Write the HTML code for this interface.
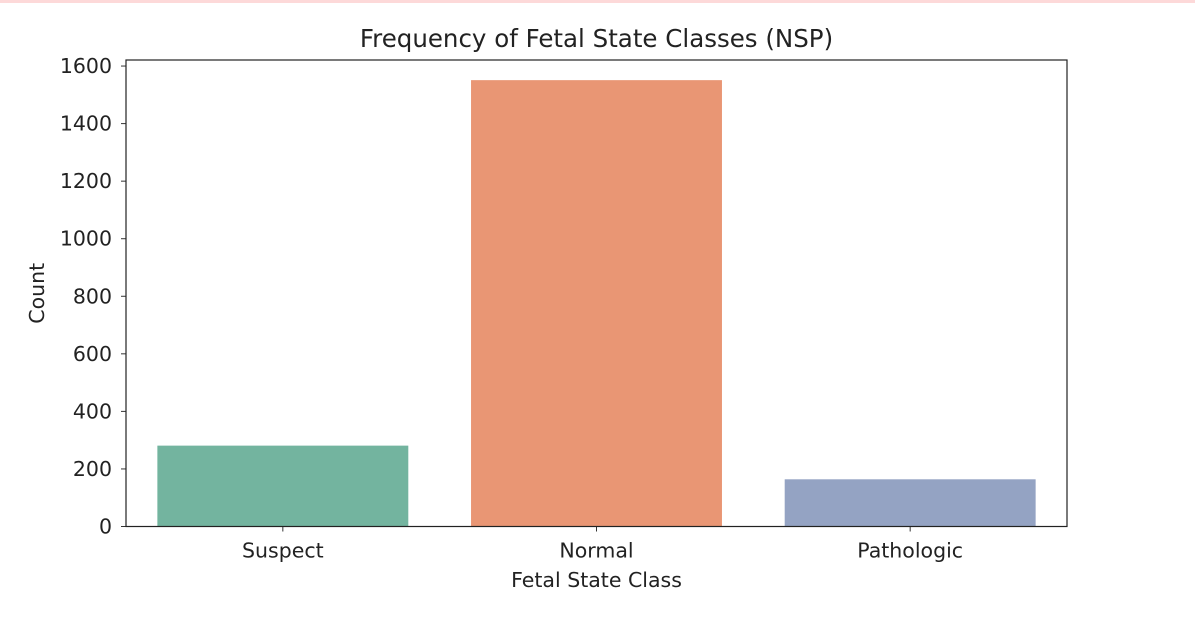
<!DOCTYPE html>
<html><head><meta charset="utf-8"><style>
body{margin:0;background:#fff;width:1195px;height:621px;overflow:hidden;font-family:"DejaVu Sans","Liberation Sans",sans-serif}
</style></head><body>
<div style="position:absolute;left:0;top:0;width:1195px;height:3px;background:#fdd9d9"></div>
<svg id="chart" width="1195" height="621" style="position:absolute;left:0;top:0"></svg>
<script>
const categories=["Suspect","Normal","Pathologic"];
const counts=[281,1551,164];
const colors=["#73b49f","#e99674","#94a3c3"];
const yTicks=[0,200,400,600,800,1000,1200,1400,1600];
const svg=document.getElementById('chart');
const NS='http://www.w3.org/2000/svg';
const L=126,R=1067,T=60,B=526.5;
const yMin=0,yMax=1621;
function y(v){return B-(v-yMin)/(yMax-yMin)*(B-T);}
const band=(R-L)/categories.length;
function xc(i){return L+band*(i+0.5);}
function mk(t,a,txt){const e=document.createElementNS(NS,t);for(const k in a)e.setAttribute(k,a[k]);if(txt!==undefined)e.textContent=txt;svg.appendChild(e);return e;}
categories.forEach((c,i)=>{
  const r=mk('rect',{x:xc(i)-band*0.4,y:y(counts[i]),width:band*0.8,height:y(0)-y(counts[i]),fill:colors[i]});
  
  
  const tk=mk('line',{x1:xc(i),x2:xc(i),y1:B,y2:B+5,stroke:'#333','stroke-width':1});
  
  
  const t=mk('text',{x:xc(i),y:B+31,'text-anchor':'middle','font-size':20.5,fill:'#222'},c);
  
  
});
yTicks.forEach(v=>{
  const tk=mk('line',{x1:L-5,x2:L,y1:y(v),y2:y(v),stroke:'#333','stroke-width':1});
  
  
  const t=mk('text',{x:L-14,y:y(v)+7,'text-anchor':'end','font-size':20.5,fill:'#222'},v);
  
  
});
const fr=mk('rect',{x:L,y:T,width:R-L,height:B-T,fill:'none',stroke:'#222','stroke-width':1.2});


const ti=mk('text',{x:(L+R)/2,y:47,'text-anchor':'middle','font-size':24.5,fill:'#222'},'Frequency of Fetal State Classes (NSP)');


const xl=mk('text',{x:(L+R)/2,y:587,'text-anchor':'middle','font-size':20.5,fill:'#222'},'Fetal State Class');


const yl=mk('text',{x:0,y:0,'text-anchor':'middle','font-size':20.5,fill:'#222',transform:'translate(44,'+((T+B)/2)+') rotate(-90)'},'Count');


</script>
</body></html>
